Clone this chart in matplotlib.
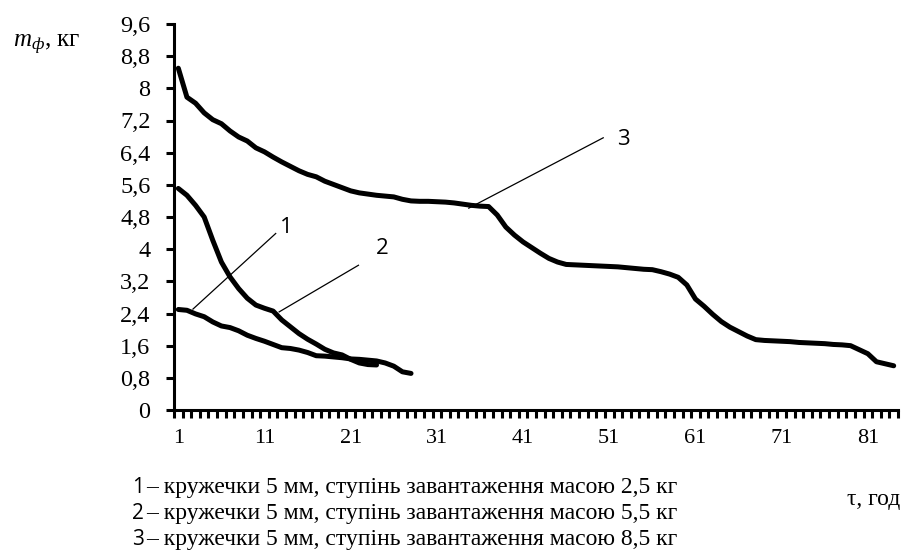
import matplotlib
matplotlib.use('Agg')
import matplotlib.pyplot as plt
from matplotlib.ticker import FixedLocator

###############################################################################
# mass of the wet material vs time, three load levels
###############################################################################

plt.rcParams['font.family'] = ['Liberation Serif', 'DejaVu Serif']
plt.rcParams['mathtext.fontset'] = 'custom'
plt.rcParams['mathtext.it'] = 'Liberation Serif:italic'
plt.rcParams['mathtext.rm'] = 'Liberation Serif'

# data
series1 = [2.50, 2.48, 2.39, 2.32, 2.19, 2.09, 2.05, 1.97, 1.86, 1.78,
           1.71, 1.63, 1.55, 1.53, 1.49, 1.43, 1.35, 1.34, 1.32, 1.30,
           1.27, 1.26, 1.24, 1.22, 1.17, 1.09, 0.95, 0.91]
series2 = [5.51, 5.34, 5.09, 4.80, 4.22, 3.68, 3.31, 3.02, 2.78, 2.61,
           2.53, 2.46, 2.24, 2.07, 1.90, 1.76, 1.64, 1.51, 1.42, 1.37,
           1.26, 1.17, 1.13, 1.12]
series3 = [8.50, 7.78, 7.63, 7.39, 7.22, 7.12, 6.94, 6.79, 6.69, 6.52,
           6.42, 6.29, 6.17, 6.06, 5.95, 5.86, 5.80, 5.69, 5.61, 5.53,
           5.45, 5.40, 5.37, 5.34, 5.32, 5.30, 5.24, 5.20, 5.19, 5.19,
           5.18, 5.17, 5.15, 5.12, 5.09, 5.07, 5.06, 4.85, 4.55, 4.35,
           4.18, 4.04, 3.90, 3.77, 3.68, 3.62, 3.61, 3.60, 3.59, 3.58,
           3.57, 3.56, 3.54, 3.52, 3.50, 3.49, 3.44, 3.38, 3.30, 3.11,
           2.76, 2.58, 2.38, 2.20, 2.06, 1.95, 1.84, 1.75, 1.73, 1.72,
           1.71, 1.70, 1.68, 1.67, 1.66, 1.65, 1.63, 1.62, 1.60, 1.50,
           1.40, 1.20, 1.15, 1.10]
n_cat = 84
x_labels = [1, 11, 21, 31, 41, 51, 61, 71, 81]
y_ticks = [0, 0.8, 1.6, 2.4, 3.2, 4, 4.8, 5.6, 6.4, 7.2, 8, 8.8, 9.6]

legend_nums = ['1', '2', '3']
legend_texts = [
    '\u2013 кружечки 5 мм, ступінь завантаження масою 2,5 кг',
    '\u2013 кружечки 5 мм, ступінь завантаження масою 5,5 кг',
    '\u2013 кружечки 5 мм, ступінь завантаження масою 8,5 кг',
]

fig = plt.figure(figsize=(9.03, 5.53), dpi=100)
ax = fig.add_axes([174/903, 1 - 410/553, (898 - 174)/903, (410 - 24)/553])

for s in (series1, series2, series3):
    ax.plot(range(1, len(s) + 1), s, color='black', lw=3.6,
            solid_joinstyle='round', solid_capstyle='round', zorder=3)

# callout lines
ax.plot([2.7, 12.3], [2.51, 4.39], color='black', lw=0.9)
ax.plot([12.7, 21.9], [2.44, 3.60], color='black', lw=0.9)
ax.plot([34.7, 50.3], [5.02, 6.77], color='black', lw=0.9)
sans = ['Open Sans', 'DejaVu Sans']
ax.text(13.5, 4.55, '1', family=sans, fontsize=16, ha='center', va='center')
ax.text(24.7, 4.02, '2', family=sans, fontsize=16, ha='center', va='center')
ax.text(52.6, 6.73, '3', family=sans, fontsize=16, ha='center', va='center')

ax.set_xlim(0.5, n_cat + 0.5)
ax.set_ylim(0, 9.6)
for side in ('top', 'right'):
    ax.spines[side].set_visible(False)
for side in ('left', 'bottom'):
    ax.spines[side].set_linewidth(2.2)

ax.xaxis.set_major_locator(FixedLocator(x_labels))
ax.xaxis.set_minor_locator(FixedLocator([i + 0.5 for i in range(n_cat + 1)]))
ax.tick_params(axis='x', which='major', length=0, pad=14, labelsize=16)
ax.tick_params(axis='x', which='minor', length=6, width=2.2, direction='out')
ax.set_yticks(y_ticks)
ax.set_yticklabels([('%g' % v).replace('.', ',') for v in y_ticks])
ax.tick_params(axis='y', length=6, width=2.2, pad=11, labelsize=17.5)

fig.text(13/903, 1 - 47/553, r'$m_{ф}$, кг', fontsize=18, va='baseline')
fig.text(900/903, 1 - 499/553, 'τ, год', fontsize=17, ha='right', va='center')

for i, (num, txt) in enumerate(zip(legend_nums, legend_texts)):
    y = 1 - (493 + 26*i)/553
    fig.text(132/903, y, num, family=sans, fontsize=15, va='baseline')
    fig.text(146/903, y, txt, fontsize=17, va='baseline')

fig.savefig('out.png', dpi=100)
